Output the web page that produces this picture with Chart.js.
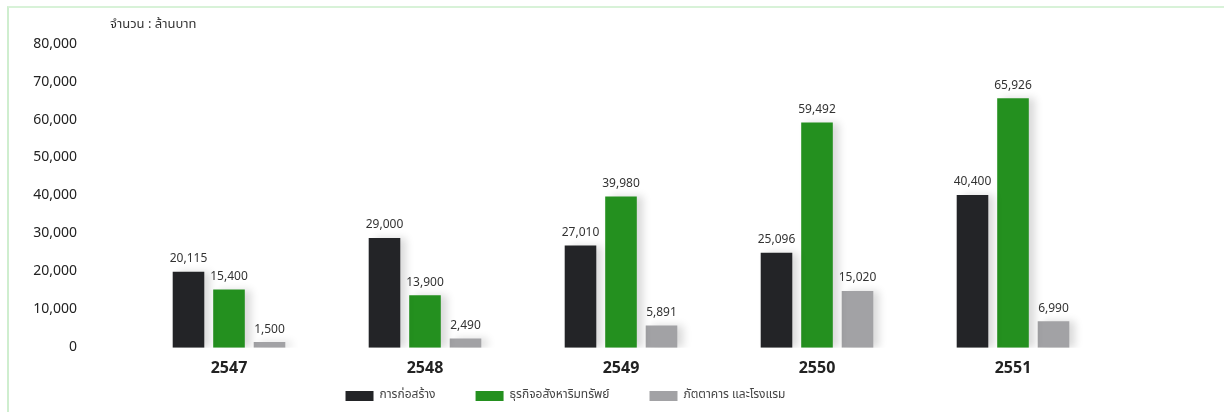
<!DOCTYPE html>
<html>
<head>
<meta charset="utf-8">
<script src="https://cdn.jsdelivr.net/npm/chart.js@4.4.0/dist/chart.umd.min.js"></script>
<style>
  html, body { margin: 0; padding: 0; background: #fff; }
  #wrap {
    position: relative;
    width: 1224px;
    height: 412px;
  }
  #frame {
    position: absolute;
    left: 7px; top: 6px; right: 0; bottom: 0;
    border-left: 2px solid #cfeecf;
    border-top: 2px solid #d8f2d8;
  }
  canvas { position: absolute; left: 0; top: 0; }
</style>
</head>
<body>
<div id="wrap">
  <div id="frame"></div>
  <canvas id="mychart" width="1224" height="412"></canvas>
</div>
<script>
// ข้อมูล
const years = ['2547', '2548', '2549', '2550', '2551'];
const construction = [20115, 29000, 27010, 25096, 40400]; // การก่อสร้าง
const realEstate = [15400, 13900, 39980, 59492, 65926];   // ธุรกิจอสังหาริมทรัพย์
const hotels = [1500, 2490, 5891, 15020, 6990];           // ภัตตาคาร และโรงแรม
const yTicks = [0, 10000, 20000, 30000, 40000, 50000, 60000, 70000, 80000];
const unitText = 'จำนวน : ล้านบาท';

const fontFamily = '"Noto Sans Thai", "Noto Sans", "Liberation Sans", Arial, sans-serif';

// ตัวเลขบนแท่ง
const valueLabels = {
  id: 'valueLabels',
  afterDatasetsDraw(chart) {
    const c = chart.ctx;
    c.save();
    c.font = '12px ' + fontFamily;
    c.fillStyle = '#333';
    c.textAlign = 'center';
    c.textBaseline = 'bottom';
    chart.data.datasets.forEach((ds, i) => {
      chart.getDatasetMeta(i).data.forEach((bar, j) => {
        c.fillText(ds.data[j].toLocaleString('en-US'), bar.x, bar.y - 6);
      });
    });
    c.restore();
  }
};

// หน่วย
const unitLabel = {
  id: 'unitLabel',
  afterDraw(chart) {
    const c = chart.ctx;
    c.save();
    c.font = '13px ' + fontFamily;
    c.fillStyle = '#333';
    c.textAlign = 'left';
    c.textBaseline = 'middle';
    c.fillText(unitText, chart.chartArea.left - 21, 25);
    c.restore();
  }
};

// เงาแท่ง
const barShadow = {
  id: 'barShadow',
  beforeDatasetsDraw(chart) {
    const c = chart.ctx;
    c.save();
    c.shadowColor = 'rgba(0,0,0,0.15)';
    c.shadowBlur = 8;
    c.shadowOffsetX = 6;
    c.shadowOffsetY = 0;
  },
  afterDatasetsDraw(chart) {
    chart.ctx.restore();
  }
};

// legend: ระยะห่างแนวนอนกว้าง แต่ไม่กินที่แนวตั้ง
const legendBoxH = 21;
const legendShift = 41;
const compactLegend = {
  id: 'compactLegend',
  afterInit(chart) {
    const lg = chart.legend;
    if (!lg) return;
    const fit = lg.fit;
    lg.fit = function () {
      fit.call(this);
      this.height = legendBoxH;
    };
    const draw = lg.draw;
    lg.draw = function () {
      const t = this.top, b = this.bottom;
      this.top = t - legendShift;
      this.bottom = chart.height;
      draw.call(this);
      this.top = t;
      this.bottom = b;
    };
  }
};

const ctx = document.getElementById('mychart');

const barChart = new Chart(ctx, {
  type: 'bar',
  data: {
    labels: years,
    datasets: [{
      label: 'การก่อสร้าง',
      data: construction,
      backgroundColor: '#232427',
    }, {
      label: 'ธุรกิจอสังหาริมทรัพย์',
      data: realEstate,
      backgroundColor: '#24901f',
    }, {
      label: 'ภัตตาคาร และโรงแรม',
      data: hotels,
      backgroundColor: '#a2a2a5',
    }]
  },
  options: {
    responsive: false,
    animation: false,
    layout: {
      padding: { left: 20, right: 113, top: 45, bottom: 0 }
    },
    datasets: {
      bar: {
        categoryPercentage: 0.62,
        barPercentage: 0.78,
      }
    },
    scales: {
      x: {
        grid: { display: false, drawTicks: false },
        border: { display: false },
        ticks: {
          color: '#222',
          padding: 12,
          font: { family: fontFamily, size: 16, weight: 'bold' }
        }
      },
      y: {
        min: 0,
        max: 80000,
        grid: { display: false, drawTicks: false },
        border: { display: false },
        afterFit(scale) {
          scale.width = 111;
          scale.paddingTop = 0;
          scale.paddingBottom = 0;
        },
        afterBuildTicks(axis) {
          axis.ticks = yTicks.map(v => ({ value: v }));
        },
        ticks: {
          color: '#222',
          padding: 54,
          font: { family: fontFamily, size: 14 },
          callback: v => v.toLocaleString('en-US')
        }
      }
    },
    plugins: {
      legend: {
        position: 'bottom',
        labels: {
          boxWidth: 28,
          boxHeight: 10,
          padding: 40,
          color: '#444',
          font: { family: fontFamily, size: 12 }
        }
      },
      tooltip: { enabled: false }
    }
  },
  plugins: [barShadow, valueLabels, unitLabel, compactLegend]
});
</script>
</body>
</html>
